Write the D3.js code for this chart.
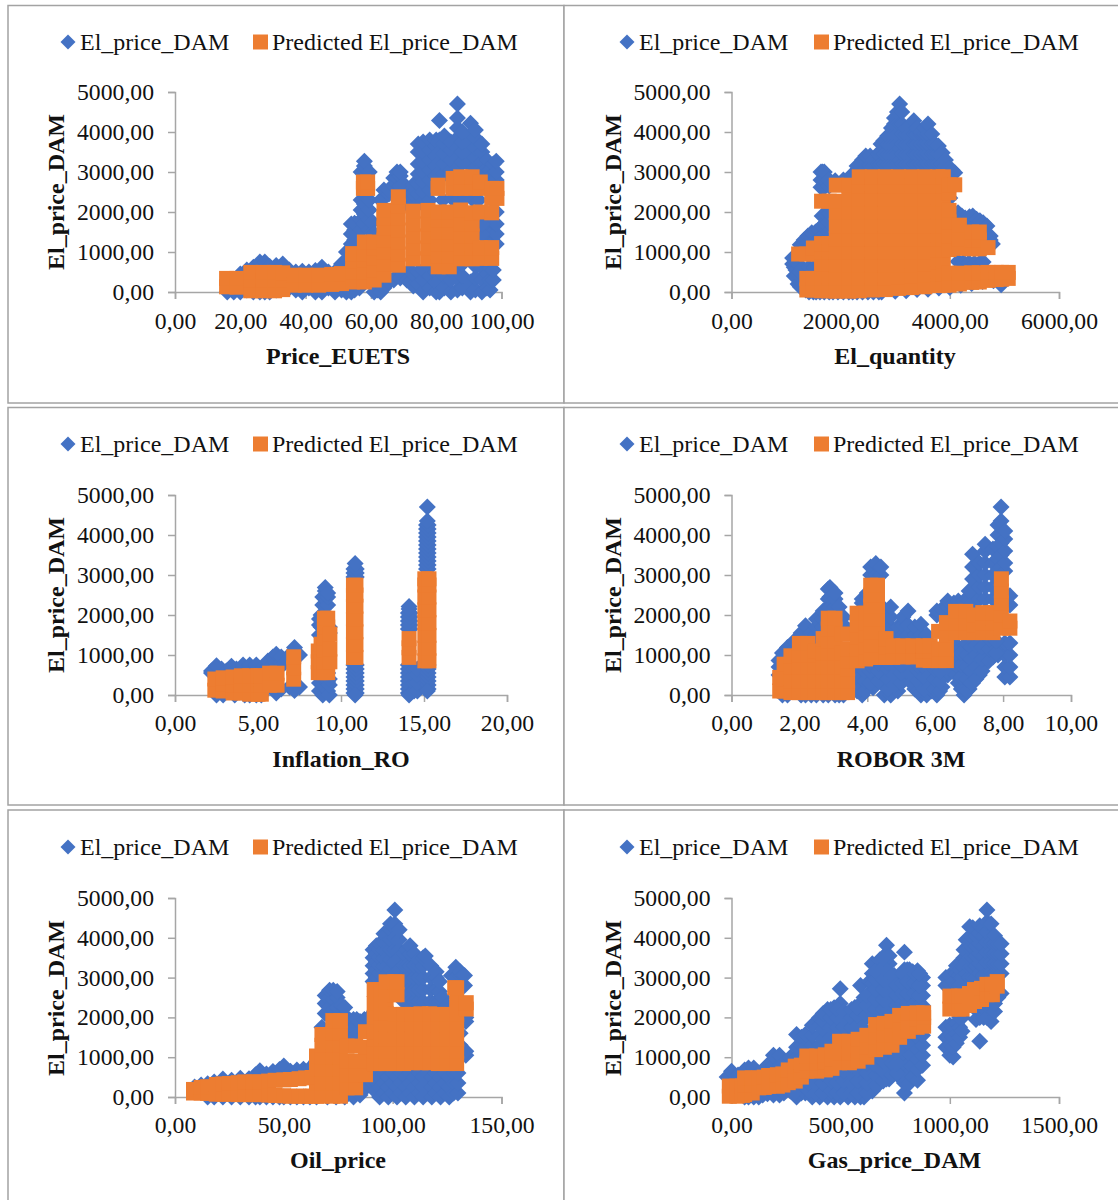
<!DOCTYPE html>
<html>
<head>
<meta charset="utf-8">
<script src="https://cdn.jsdelivr.net/npm/d3@7"></script>
<style>
body { margin: 0; background: #fff; }
svg { display: block; }
text { font-family: "Liberation Serif", serif; fill: #111; }
</style>
</head>
<body>
<div id="chart"></div>
<script>
// every row: x value, then the El_price_DAM values read at that x
// actual points hidden behind the orange ones can't be read, so they aren't listed
var euetsActual = [
	[16,0],[18,0],[20,0,450],[22,50,550],[24,0,620],[26,0,750],[27.5,0,750],[29,0,640],[31,50,660],[33,100,700],[35,100,550],
	[37,50,500],[39,0,520],[41,100,500],[43,0,540],[45,0,620],[47,100,500],[49,0,500],[51,50,700],[52.5,0,800,1000],
	[54,0,1200,1450,1700],[55,50,1300,1550,1720],[56.5,100,1250,1500,1750],[57,1550,1800,2050,2300,3000],[58,1700,1950,2200,2950,3150,3270],
	[59.5,1550,1800,2050,2300,3000],[60.5,1500,1750],[61,0,1450],[62,50,200],[63,0,200,2300],[64,100,2350,2550],[65.5,250,2450,2550],
	[66,300,2600],[67,300,2650,2850],[68,400,2700,2850,3000],[69,350,2650,2900,3000],[70,450,2500,2700],[71,300,2200,2450],
	[72,250,550,2150,2400],[73,150,450,2200,2450,2680],[74.5,200,500,2200,2450,2700,2950,3200,3500,3700],
	[76,0,300,550,2250,2500,2750,3000,3250,3500,3750],[78,100,400,620,2300,2550,2800,3050,3300,3550,3800],
	[80,0,250,500,2900,3150,3400,3650,3800],[81,0,300,3000,3250,3500,3800,4290],[82.5,100,400,2950,3200,3450,3700,3900],
	[84.5,0,300,550,3050,3300,3550,3750],[86.5,50,350,600,3100,3350,3600,3850,4100,4350,4700],[88,100,400,700,3250,3500,3750,4000],
	[90.5,0,250,3150,3400,3650,3900,4220],[92,50,350,650,3100,3350,3600,3850,4050],[94,0,300,600,3000,3250,3500,3700],
	[95.5,100,450,1350,1600,2900,3100,3300],[96.5,50,300,600,1300,1550,1800,2800,3050],[97.5,300,550,1250,1500,1750,2950,3200],
	[98.4,1200,1450,1700,2000,2800,3000,3270],
	[82,2300],[85,2330],[87,2330],[89,2360],[91,2330],[93,2300,1500],[94,1450,1700]
];
var euetsPredicted = [
	[15.8,130,340],[19,120,340],[23.2,30,300,490],[27,30,300,490],[30.5,30,300,490],[33,60,300,480],[36.5,170,420],[40,170,420],[44,170,420],
	[48,190,440],[51,210,460],[54.4,250,500,780,960],[58,250,500,800,960,1250],[61,300,560,850,1100,1250],[57.7,2590,2750],[59,2590,2750],
	[64,420,700,1000,1300,1600,1850,2040],[68.4,670,950,1250,1550,1850,2150,2380],[73,830,1100,1400,1700,2020],[77.5,830,1100,1400,1700,2040],
	[80.6,630,900,1200,1500,1800,2000,2590,2670],[84,630,900,1200,1500,1800,2000],[85.2,2590,2840],[87.5,830,1100,1400,1700,2050,2590,2880],
	[91,830,1100,1400,1700,1980,2590,2880],[93.5,840,1110,2000,2590,2750],[97,840,1110,1980,2340,2590],[98.6,2340,2590]
];

var quantityActual = [
	[1120,700,850],[1150,400,620],[1180,550,750],[1220,200,450],[1260,130,1180],[1300,100],[1330,1200,1300],[1360,50],[1400,1220,1400],[1420,0],
	[1470,1350,1480],[1500,0],[1540,1300,1500],[1550,0],[1600,1320,1560],[1620,0],[1640,2620,2800,3000],[1660,1400,1650,1900],[1670,3000],
	[1700,2620,2800,3000,0],[1720,1450,1700,1950],[1790,1500,1750,1960,0,2650,2800],[1860,0],[1900,2780],[1950,0],[2050,2800,0],[2150,2800,0],
	[2220,2950,0],[2300,3000,3150,0],[2400,3100,3300,0],[2460,3100,3400],[2500,0],[2540,3150,3400],[2600,3150,3300,0],[2680,3200,3450],[2700,0],
	[2740,3200,3500,3700],[2750,0],[2790,3200,3450,3780],[2860,3200,3450,3700,3900],[2930,3200,3450,3700,3950,4100],[2985,3200,3450,3700,3950,4200,4350],
	[3000,20],[3040,3200,3450,3700,3950,4200,4500],[3080,3300,3600,4200,4700],[3120,3200,3450,3700,3950,4200,4500],[3190,3200,3450,3700,3950,4100],
	[3200,30],[3260,3200,3450,3700,3950,4150],[3340,3200,3450,3700,3950,4280],[3400,3200,3450,3700,3950,4100,60],[3470,3200,3450,3700,3950,4000],
	[3540,3200,3450,3700,3950,4100],[3600,3200,3450,3700,3950,4200,70],[3670,3200,3450,3700,3950],[3730,3200,3450,3700],[3790,3200,3450,3650],
	[3800,100],[3860,3200,3480],[3920,3150,3300],[3980,3100],[4000,110,2350],[4040,2950,3050],[4080,1950],[4090,2980],[4150,1750,1980,760],
	[4200,170],[4220,1750,1900],[4250,740],[4280,1700,1850],[4350,730],[4360,1700,1880],[4400,210],[4420,1700,1900],[4450,720],[4490,1700,1820],
	[4550,1700,1780,730],[4600,260],[4610,1500,1730,750],[4680,1450,1650],[4740,1300,1400],[4780,1200],[4800,280],[4940,180],[5000,320],
	[1250,500],[1300,600],[1420,620],[1520,620],[1600,620]
];
var quantityPredicted = [
	[1230,950],[1380,50,340,950],[1500,50,340,950,1100],[1650,30,340,700,1000,1210,2270],[1790,30,340,700,1000,1210,2270],
	[1920,20,340,670,1000,1330,1660,1990,2270,2670],[2150,20,340,670,1000,1330,1660,1990,2320,2670],[2340,30,340,670,1000,1330,1660,1990,2320,2650,2880],
	[2580,50,340,670,1000,1330,1660,1990,2320,2650,2880],[2820,60,350,670,1000,1330,1660,1990,2320,2650,2880],[3060,90,380,670,1000,1330,1660,1990,2320,2650,2880],
	[3300,110,400,670,1000,1330,1660,1990,2320,2650,2880],[3540,130,420,700,1000,1330,1660,1990,2320,2650,2880],[3780,160,440,750,1060,1330,1660,1990,2320,2650,2880],
	[3880,170,450,770,1060,1330,1660,1990,2320,2650,2880],[3985,170,470,1060,1400,1750,2040,2480,2680],[4090,2680],[4175,200,470,1090,1330,1670],
	[4400,240,480,1080,1300,1500],[4540,250,480,1080,1300,1500],[4700,290,490,1110],[4850,310,490],[5070,340,490],[4950,320,490]
];

var inflationActual = [
	[2.2,550,600],[2.5,650,730,0],[2.8,600,650],[2.9,0],[3.1,600],[3.4,600,720],[3.6,0],[3.7,650],[4.1,670,750],[4.2,0],[4.5,650,750,0],[4.9,700,750,0],
	[5.2,0],[5.3,700],[5.6,700,850],[5.9,780,950],[6.1,50,800,1020],[6.4,150,800,950],[6.6,800],[6.9,200,1000],[7.2,110,1000,1100,1190],[7.5,200,1000],
	[8.7,100,300,1500,1750,1900],[8.8,1700,2000],[8.9,0,250,2250,2450],[9.05,2200,2400,2600,2690],[9.2,100,300,350,550,2250,2450,2550],[9.3,0,250,400,1550,1700],
	[10.78,50,150,250,350,450,550,650,750,2950,3050,3150],[10.92,50,150,250,350,450,550,650,750,2950,3050,3150],[10.85,0,3290],
	[14.06,50,150,250,350,450,550,650,750,1650,1750,1850,1950,2050],[14.16,50,150,250,350,450,550,650,750,1650,1750,1850,1950,2050],[14.1,0,2150,2210],[14.4,100,300,500,650],[14.6,100,300,500,650],
	[15.15,150,250,350,450,550,650,750,3150,3250,3350,3450,3550,3650,3750,3850,3950,4050,4150,4250],[15.25,150,250,350,450,550,650,750,3150,3250,3350,3450,3550,3650,3750,3850,3950,4050,4150,4250],[15.2,100,4350,4700]
];
var inflationPredicted = [
	[2.4,120,400],[2.9,100,280,430],[3.5,50,250,450],[4,50,250,480],[4.5,20,250,480],[5,20,250,480],[5.2,20,250,480],[5.7,245,545],[6.15,245,545],
	[7.15,395,680,955],[8.63,560,830,1100],[8.8,560,830,1270],[9,560,830,1130,1430,1700,1920],[9.2,560,830,1130,1430,1700,1920],[9.33,830,1150,1520],
	[10.75,940,1260,1580,1900,2220,2500,2745],[10.9,940,1260,1580,1900,2220,2500,2745],[14.1,940,1180,1410],[15.05,855,1170,1490,1810,2130,2450,2750,2905],[15.3,855,1170,1490,1810,2130,2450,2750,2905]
];

var roborActual = [
	[1.4,500,700,860],[1.5,0,800,1050],[1.65,0,1000,1190],[1.85,1150,1350],[2.05,0,1350,1550],[2.18,0,1350,1550,1730],[2.35,0,1350,1550],
	[2.5,0,1300,1500,1700,1900],[2.7,0,1700,1900,2100],[2.85,0,2200,2400,2650],[2.9,2200,2450,2690],[3.05,0,2200,2400,2550],[3.17,0,2200],[3.3,0,1750,1950],
	[3.54,1650],[3.7,100,350,600,1900],[3.85,0,250,500,2300,2400],[4,250,500,700,2400,2550],[4.1,3000,3200],[4.17,180,500,750],[4.25,3000,3290],[4.4,3000,3200],
	[4.5,0,250,500,750,1650,1900,2150],[4.69,0,300,600,1700,1950,2200],[4.9,100,400,650,1500,1700],[5.05,450,700,1500,1750,1950],[5.2,450,700,1500,1750,2100],
	[5.4,150,400,650,1500,1700],[5.58,0,250,550,1500,1770],[5.75,0,300,600,1450,1500],[5.9,100,400,600],[6.05,0,300,550,2000,2100],[6.2,200,450,650,2000,2150],
	[6.37,500,750,1000,2200,2350],[6.55,700,1000,1300,2300],[6.68,300,600,900,1200,2350],[6.85,0,300,600,900,1200,2350],[7,150,450,750,1050,1300,2350,2600],
	[7.1,300,600,900,1200,2300,2600,2900,3200,3520],[7.3,500,800,1100,1300,2400,2700,3000,3300],[7.47,800,1100,1350,2400,2700,3000,3300,3600,3770],
	[7.7,950,1200,1400,2400,2700,3000,3300,3650],[7.85,1000,1300,3100,3400,3700,4000,4250],[7.94,1100,3200,3500,3800,4350,4700],
	[8.05,450,700,1000,1300,3100,3300,3600,3900,4100],[8.2,450,700,1000,1300,2250,2480],
	[3.78,150,450,700],[3.93,100,350,600],[4.08,300,600,750,850],[4.35,350,600,800],[4.6,150,400,650,800],[4.8,250,500,750],[5,300,550,750],[5.3,300,550,750],
	[5.5,100,350,600,750],[5.67,150,450,700],[5.83,200,500,700],[6,150,400,650],[6.13,100,350,600],[6.45,600,850,1100,1350],[6.62,500,750,1050],[6.77,150,450,750,1050],
	[6.93,100,400,700,1000,1300],[7.05,300,600,900,1200],[7.2,400,700,1000,1250],[7.38,600,900,1200],[7.58,850,1150,1400],[7.8,1050,1350]
];
var roborPredicted = [
	[1.42,100,440],[1.55,100,400,770],[1.75,60,350,700,980],[2,60,350,700,1000,1290],[2.25,60,350,700,1000,1290],[2.45,60,350,700,1000,1100],
	[2.7,60,350,700,1050,1410],[2.85,60,350,700,1050,1350,1650,1920],[3.05,60,350,700,1050,1350,1650,1920],[3.25,60,350,700,1050,1520],
	[3.42,60,350,650,855,1150,1520],[3.7,855,1150,1450,1750,2045],[3.95,900,1200,1500,1800,2045],[4.1,940,1260,1580,1900,2220,2500,2745],[4.3,940,1260,1580,1900,2220,2500,2745],
	[4.55,940,1200,1410],[4.75,940,1230],[5.05,950,1230],[5.35,950,1230],[5.65,870,1100,1230],[5.85,860,1100,1230],[6.1,860,1150,1590],
	[6.33,860,1150,1500,1810],[6.6,1560,1800,2090],[6.9,1560,1800,2090],[7.15,1560,1750,2000],[7.4,1560,1800,2060],[7.7,1560,1800,2060],
	[7.95,1670,2000,2300,2600,2905],[8.2,1670,1850]
];

var oilActual = [
	[9,250],[12,300],[15,0,330],[18,0,380],[22,0,450],[26,0,420],[30,0,470],[34,0,460],[37,0,560],[39,0,660],[42,0,580],[45,0,640],[48,0,690],[50,0,780],[53,0,650],
	[56,0,680],[59,0,700],[62,0,720],[65,0,780,900],[67.5,1750],[69,2100,2350,2550],[70,0],[71,2250,2500,2680],[72.7,2200,2450,2680],[74,0],[74.5,2250,2500,2650],
	[76.5,2100,2300],[78,0,2000,2250],[80,100,1500,1750,1950],[81,1400],[82,0,1500,1750,1950],[83,1400],[83.5,1550,1800,1950],[85,50,1900],[87,200,1950],[88.5,1970],[89,300],[90,400,650,1800,1950],
	[91,2900,3100,3300,3500,3700],[92,150,400,650],[92.5,3000,3200,3400,3600,3800],[94,0,250,500,3100,3300,3500,3700,3850],[96,100,350,600,3100,3300,3500,3700,3900,4100],
	[97.5,3100,3300,3500,3700,3900,4100],[98,0,250,500],[99,3200,3450,3700,3950,4200,4350],[100,100,350,600],[101,3100,3400,3700,4000,4350,4700],[102,0,250,500],
	[103,3200,3500,3700,3950,4200],[104,100,350,600],[105,2400,2700,3000,3300,3600],[106,0,250,500],[106.5,2400,2700,3000,3300,3700],[108,100,350,600,2400,2700,3000,3300,3600,3800],
	[110,0,250,500,2400,2700,3000,3300,3600],[112,100,350,600,2400,2700,3000,3300,3450],[114,0,250,500,2400,2700,3000,3300,3500],[115,3540],[116,100,350,600],
	[117.5,2400,2700,3000,3300],[118,0,250,500],[120,100,350,600,2400,2700,3000,3150],[121.5,2400,2650,2900],[122,0,250,500],[123,2400,2500],[124,100,350,600],[125,2300],
	[126,0,250,500],[127,3050],[128,100,350,600],[129,3000,3260],[130,100,350,600],[131,1050,1300,1600,1850,3050,3150],[132,3050],[133,2800,3050],[133.6,1050,1150,1900,2000]
];
var oilPredicted = [
	[8.5,100,190],[12,100,240],[15,90,260],[19,70,315],[22,70,330],[25,70,340],[29,60,360],[32,60,380],[36,60,380],[39,60,380],[43,50,400],[46,40,420],[50,30,430],[53,20,440],
	[57,20,460],[60,20,480],[63,20,490],[65,20,350,500,700,1030],[67.5,20,350,700,1000,1300,1570],[72.5,20,350,700,1000,1300,1600,1920],[76,20,350,700,1000,1300,1600,1920],
	[79,230,550,900,1280],[83,230,560,900,1280],[87.5,560,900,1250,1640],[91.5,840,1150,1450,1640,2000,2350,2700],[94.5,840,1150,1450,1800,2100,2400,2700],[97,840,1150,1450,1800,2100,2400,2700,2895],
	[101,840,1150,1450,1800,2075,2570,2895],[102,2570,2895],[105,840,1150,1450,1800,2075],[109,860,1150,1450,1800,2075],[113,860,1150,1450,1800,2090],[117,860,1150,1450,1800,2090],
	[121,840,1150,1450,1800,2075],[125,840,1150,1450,1800,2075],[129.4,840,1150,1450,1800,2075,2400,2745],[128.5,2745],[133.8,2210,2370]
];

var gasActual = [
	[-20,500],[0,500,650],[30,550],[60,0,680],[78,0,730],[102,0,730],[125,0,600],[143,50,580],[165,80,800],[192,50,800,1050],[220,50,800,1050],[240,100,850],[270,150,1000],
	[298,0,200,1000,1250,1570],[320,100,300,1000,1300,1500],[338,100,350,1250,1500,1570],[370,0,250,450,1300,1550,1800],[404,0,300,1300,1550,1800,2000],
	[440,0,250,500,1300,1550,1800,2050,2200],[470,0,300,600,1650,1900,2100,2240],[498,0,250,500,700,1650,1900,2150,2350,2720],[534,0,300,600,1650,1900,2080],
	[565,0,250,500,750,1650,1900,2150,2250],[591,0,300,600,1700,1950,2200,2350,2800],[607,0,250,500,800,1700,1950,2200,2500],[632,200,450,700,950,2100,2350,2600,2900],
	[645,150,400,700,950,2100,2350,2600,2850,3100,3350],[680,350,600,850,2100,2350,2600,2850,3100,3450],[710,450,700,950,2100,2350,2600,2850,3100,3350,3600,3810],
	[722,450,700,950,2100,2350,2600,2850,3100,3350,3550],[745,700,1000,1300,2350,2600,2850,3050],[770,500,750,1000,1300,1500,2350,2600,2800],
	[792,100,350,600,850,1100,1350,1550,2400,2650,2900,3200,3640],[815,350,600,850,1100,1350,2350,2600,2850,3100,3200],[830,500,800,1100,1350,2400,2650,2900,3150],
	[852,420,700,950,1200,1500,2300,2550,2800,3170],[875,800,1050,1300,1550,2300,2550,2800,3000],
	[982,1250,1500,1750,2800,3000],[1000,1050,1300,1550,1800,2850,3050],[1015,1005,1250,1500,1750,2900],[1030,1350,1600,1850,2800,3100,3300],[1045,1500,1750,2000,2800,3050,3200],
	[1056,1650,2000,2850,3000],[1065,3000,3250,3500,3700],[1075,3100,3400,3700,3950],[1091,3000,3250,3500,3750,4000,4280],[1105,3000,3250,3500,3750,4000,4250],
	[1120,1950,2200,3000,3300,3550,3800,4050],[1137,1400,2000,2200,3100,3350,3600,3850,4100,4300],[1155,2000,2250,3050,3300,3550,3800,4050,4250],
	[1170,2000,2250,3100,3400,3650,3900,4150,4400,4700],[1189,1900,2200,2400,3150,3400,3650,3900,4350],[1205,2150,2350,3100,3350,3600,3850,4050],
	[1220,2500,3100,3350,3600,3850],[1235,2600,3100,3350,3600,3850],
	[285,100],[355,150,350],[385,100,350,500],[420,100,350,600,1450,1700,1900,2100],[455,150,400,650,1500,1750,2000,2200],[485,100,350,600,1750,2000,2200],[515,100,400,650,1750,2000,2150],
	[550,100,350,600,800,1750,2000,2200],[578,100,400,700,1800,2050,2250],[620,100,350,600,850,2050,2300,2550],[660,300,550,800,1050,2200,2450,2700,2950,3150],
	[695,400,650,900,1150,2200,2450,2700,2950,3250,3500],[735,550,850,1150,1400,2300,2550,2800,3050],[757,600,850,1150,1400,2300,2550,2800],[785,2350,2600,2850,3100],
	[805,2350,2600,2900,3200],[840,2350,2600,2850,3100],[862,2300,2550,2800,3100]
];
var gasPredicted = [
	[-10,20,275],[25,20,275],[50,40,275],[60,60,300,480],[95,100,300,480],[125,230,480],[150,240,500],[170,270,540],[210,270,560],[235,300,580],[260,360,680],[292,400,775],
	[320,500,800],[345,650,850,1030],[390,650,850,1030],[430,680,880,1060],[460,720,950,1150],[495,860,1100,1400],[540,860,1100,1400],[580,900,1150,1450],[620,1000,1250,1550],
	[660,1190,1500,1820],[700,1250,1550,1850],[735,1300,1550,1900],[770,1500,1800,2050],[810,1650,1880,2100],[850,1750,1950,2115],[880,1780,2000,2115],
	[1000,2210,2535],[1040,2210,2535],[1056,2210,2535],[1090,2300,2600],[1113,2400,2700],[1145,2450,2730],[1170,2570,2830],[1195,2570,2830],[1217,2785,2900]
];

var priceTicks = [0, 1000, 2000, 3000, 4000, 5000];
var euetsTicks = [0, 20, 40, 60, 80, 100];
var quantityTicks = [0, 2000, 4000, 6000];
var inflationTicks = [0, 5, 10, 15, 20];
var roborTicks = [0, 2, 4, 6, 8, 10];
var oilTicks = [0, 50, 100, 150];
var gasTicks = [0, 500, 1000, 1500];

var seriesNames = ["El_price_DAM", "Predicted El_price_DAM"];
var blue = "#4472c4";
var orange = "#ed7d31";
var axisGrey = "#a6a6a6";
var frameGrey = "#a3a3a3";

// where each panel sits on the page
var panels = [
	{title: "Price_EUETS", actual: euetsActual, predicted: euetsPredicted, ticks: euetsTicks, x0: 175, x1: 501.5, top: 92, plotH: 200, pad: 13, legendY: 42, titleX: 338, legendX: 68, squareX: 260.5},
	{title: "El_quantity", actual: quantityActual, predicted: quantityPredicted, ticks: quantityTicks, x0: 731.5, x1: 1059, top: 92, plotH: 200, pad: 13, legendY: 42, titleX: 895, legendX: 627, squareX: 821.5},
	{title: "Inflation_RO", actual: inflationActual, predicted: inflationPredicted, ticks: inflationTicks, x0: 175, x1: 507, top: 495, plotH: 200, pad: 12, legendY: 444, titleX: 341, legendX: 68, squareX: 260.5},
	{title: "ROBOR 3M", actual: roborActual, predicted: roborPredicted, ticks: roborTicks, x0: 731.5, x1: 1071, top: 495, plotH: 200, pad: 12, legendY: 444, titleX: 901, legendX: 627, squareX: 821.5},
	{title: "Oil_price", actual: oilActual, predicted: oilPredicted, ticks: oilTicks, x0: 175, x1: 501.5, top: 898, plotH: 199, pad: 12, legendY: 847, titleX: 338, legendX: 68, squareX: 260.5},
	{title: "Gas_price_DAM", actual: gasActual, predicted: gasPredicted, ticks: gasTicks, x0: 731.5, x1: 1059, top: 898, plotH: 199, pad: 12, legendY: 847, titleX: 894.5, legendX: 627, squareX: 821.5}
];

var w = 1118;
var h = 1200;

var svg = d3.select("#chart").append("svg")
	.attr("width", w)
	.attr("height", h);

var frames = [[8, 5.5, 556, 397.5], [564, 5.5, 560, 397.5], [8, 407.5, 556, 397.5], [564, 407.5, 560, 397.5], [8, 810, 556, 400], [564, 810, 560, 400]];
svg.selectAll("rect.frame")
	.data(frames)
	.enter()
	.append("rect")
	.attr("class", "frame")
	.attr("x", function (d) { return d[0]; })
	.attr("y", function (d) { return d[1]; })
	.attr("width", function (d) { return d[2]; })
	.attr("height", function (d) { return d[3]; })
	.attr("fill", "#fff")
	.attr("stroke", frameGrey)
	.attr("stroke-width", 1.5);

var diamond = d3.symbol().type(d3.symbolDiamond2).size(184)();
var legendDiamond = d3.symbol().type(d3.symbolDiamond2).size(143)();
var square = d3.symbol().type(d3.symbolSquare).size(225)();

function fmt(v) {
	return d3.format(".2f")(v).replace(".", ",");
}

// rows [x, y, y, ...] to single points
function toPoints(rows) {
	return rows.flatMap(function (r) {
		return r.slice(1).map(function (y) { return [r[0], y]; });
	});
}

function styleAxis(g) {
	g.selectAll("path").attr("stroke", axisGrey).attr("stroke-width", 1.5);
	g.selectAll("line").attr("stroke", axisGrey).attr("stroke-width", 1.5);
	g.selectAll("text").attr("font-family", "Liberation Serif").attr("font-size", "23.7px").attr("fill", "#111");
}

panels.forEach(function (p) {
	var xScale = d3.scaleLinear()
		.domain([0, d3.max(p.ticks)])
		.range([p.x0, p.x1]);
	var yScale = d3.scaleLinear()
		.domain([0, 5000])
		.range([p.top + p.plotH, p.top]);

	var g = svg.append("g");

	g.append("g")
		.attr("transform", "translate(0," + (p.top + p.plotH) + ")")
		.call(d3.axisBottom(xScale).tickValues(p.ticks).tickFormat(fmt).tickSize(7).tickPadding(p.pad).tickSizeOuter(7))
		.call(styleAxis);
	g.append("g")
		.attr("transform", "translate(" + p.x0 + ",0)")
		.call(d3.axisLeft(yScale).tickValues(priceTicks).tickFormat(fmt).tickSize(7).tickPadding(14).tickSizeOuter(7))
		.call(styleAxis);

	g.append("g").selectAll("path")
		.data(toPoints(p.actual))
		.enter()
		.append("path")
		.attr("d", diamond)
		.attr("fill", blue)
		.attr("transform", function (d) {
			return "translate(" + xScale(d[0]) + "," + yScale(d[1]) + ")";
		});
	g.append("g").selectAll("path")
		.data(toPoints(p.predicted))
		.enter()
		.append("path")
		.attr("d", square)
		.attr("fill", orange)
		.attr("transform", function (d) {
			return "translate(" + xScale(d[0]) + "," + yScale(d[1]) + ")";
		});

	// legend
	var ly = p.legendY;
	g.append("path").attr("d", legendDiamond).attr("fill", blue)
		.attr("transform", "translate(" + p.legendX + "," + ly + ")");
	g.append("text").text(seriesNames[0])
		.attr("x", p.legendX + 12).attr("y", ly + 8)
		.attr("font-size", "24px");
	g.append("path").attr("d", square).attr("fill", orange)
		.attr("transform", "translate(" + p.squareX + "," + ly + ")");
	g.append("text").text(seriesNames[1])
		.attr("x", p.squareX + 11.5).attr("y", ly + 8)
		.attr("font-size", "24px");

	// axis titles
	g.append("text").text(p.title)
		.attr("x", p.titleX).attr("y", 92 + 200 + p.top - 92 + (p.plotH === 199 ? 70 : 72))
		.attr("text-anchor", "middle")
		.attr("font-weight", "bold")
		.attr("font-size", "24px");
	g.append("text").text(seriesNames[0])
		.attr("transform", "translate(" + (p.x0 - 111) + "," + (p.top + 100) + ") rotate(-90)")
		.attr("text-anchor", "middle")
		.attr("font-weight", "bold")
		.attr("font-size", "24px");
});
</script>
</body>
</html>
